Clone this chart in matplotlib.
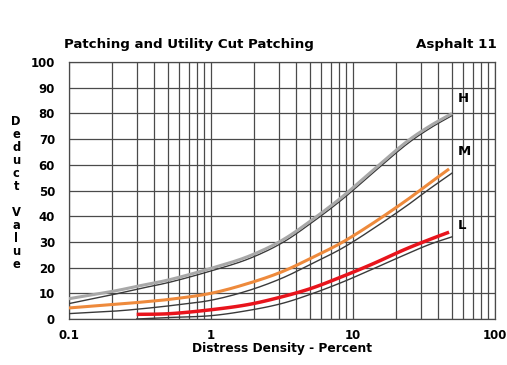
import numpy as np
import matplotlib.pyplot as plt
from matplotlib.ticker import LogLocator, FixedLocator, NullFormatter

# Deduct value curves for each severity level (density in percent)
density_h = [0.1, 0.2, 0.3, 0.52, 1.0, 1.82, 3.14, 5.13, 8.39, 13.6, 23.3, 34.6, 50.0]
deduct_h = [7.9, 10.7, 12.7, 15.4, 19.7, 24.3, 30.5, 38.5, 47.5, 57.5, 68.5, 75.0, 80.0]
deduct_h_under = [6.0, 9.4, 11.6, 14.4, 18.7, 23.3, 29.5, 37.5, 46.5, 56.5, 67.5, 74.1, 79.2]

density_m = [0.1, 0.2, 0.3, 0.52, 1.0, 1.82, 3.14, 5.13, 8.39, 13.6, 23.3, 34.6, 47.6]
deduct_m = [4.3, 5.6, 6.4, 7.7, 10.0, 13.8, 18.3, 23.8, 29.8, 37.0, 45.8, 52.8, 58.4]
density_m_under = [0.1, 0.2, 0.3, 0.52, 1.0, 1.82, 3.14, 5.13, 8.39, 13.6, 23.3, 34.6, 50.0]
deduct_m_under = [2.1, 3.0, 3.8, 5.2, 7.3, 11.0, 15.8, 21.5, 27.5, 34.8, 43.6, 50.6, 56.8]

density_l = [0.3, 0.52, 1.0, 1.82, 3.14, 5.13, 8.39, 13.6, 23.3, 34.6, 47.6]
deduct_l = [1.8, 2.1, 3.6, 5.6, 8.6, 12.0, 16.5, 21.3, 27.1, 30.9, 33.8]
density_l_under = [0.3, 0.52, 1.0, 1.82, 3.14, 5.13, 8.39, 13.6, 23.3, 34.6, 50.0]
deduct_l_under = [0.0, 0.6, 1.3, 3.3, 6.0, 9.8, 14.3, 19.3, 25.0, 29.0, 32.0]

x_ticks = [0.1, 1, 10, 100]
x_tick_labels = ["0.1", "1", "10", "100"]
y_ticks = list(range(0, 101, 10))

plt.rcParams['font.family'] = ['DejaVu Sans']
plt.rcParams['font.weight'] = 'bold'

fig = plt.figure(figsize=(5.07, 3.65), dpi=100)
ax = fig.add_axes([0.136, 0.126, 0.840, 0.704])


def through(xs, ys, steps=12):
    # Catmull-Rom through the points, worked in log10(x)
    px = np.log10(np.asarray(xs, float))
    py = np.asarray(ys, float)
    px = np.concatenate([[2 * px[0] - px[1]], px, [2 * px[-1] - px[-2]]])
    py = np.concatenate([[2 * py[0] - py[1]], py, [2 * py[-1] - py[-2]]])
    out_x, out_y = [], []
    t = np.linspace(0, 1, steps, endpoint=False)
    for i in range(1, len(px) - 2):
        for arr, out in ((px, out_x), (py, out_y)):
            p0, p1, p2, p3 = arr[i - 1:i + 3]
            out.extend(0.5 * (2 * p1 + (-p0 + p2) * t
                              + (2 * p0 - 5 * p1 + 4 * p2 - p3) * t ** 2
                              + (-p0 + 3 * p1 - 3 * p2 + p3) * t ** 3))
    out_x.append(px[-2])
    out_y.append(py[-2])
    return 10 ** np.array(out_x), np.array(out_y)


dark = "#3a3a3a"
for xs, ys, xu, yu, col, lw in [
    (density_h, deduct_h, density_h, deduct_h_under, "#a8a8a8", 2.2),
    (density_m, deduct_m, density_m_under, deduct_m_under, "#ee8a3c", 2.2),
    (density_l, deduct_l, density_l_under, deduct_l_under, "#e8141c", 2.5),
]:
    ax.plot(*through(xu, yu), color=dark, lw=1.0, zorder=3)
    ax.plot(*through(xs, ys), color=col, lw=lw, zorder=4, solid_capstyle='butt')

ax.text(55, 86, "H", fontsize=9.5, fontweight='bold', ha='left', va='center')
ax.text(55, 65, "M", fontsize=9.5, fontweight='bold', ha='left', va='center')
ax.text(55, 36.5, "L", fontsize=9.5, fontweight='bold', ha='left', va='center')

ax.set_xscale('log')
ax.set_xlim(0.1, 100)
ax.set_ylim(0, 100)
ax.xaxis.set_major_locator(FixedLocator(x_ticks))
ax.set_xticklabels(x_tick_labels)
ax.xaxis.set_minor_locator(LogLocator(base=10, subs=np.arange(2, 10)))
ax.xaxis.set_minor_formatter(NullFormatter())
ax.set_yticks(y_ticks)

grid_col = "#4a4a4a"
ax.grid(True, which='both', axis='x', color=grid_col, lw=0.9)
ax.grid(True, which='major', axis='y', color=grid_col, lw=0.9)
ax.tick_params(axis='both', which='both', length=0, labelsize=8.5)
ax.tick_params(axis='x', pad=7)
ax.tick_params(axis='y', pad=10)
for lab in ax.get_xticklabels() + ax.get_yticklabels():
    lab.set_fontweight('bold')
for s in ax.spines.values():
    s.set_color(grid_col)
    s.set_linewidth(0.9)

ax.set_xlabel("Distress Density - Percent", fontsize=8.8, fontweight='bold', labelpad=0)
fig.text(0.032, 0.47, "\n".join("Deduct") + "\n\n" + "\n".join("Value"),
         fontsize=8.3, fontweight='bold', ha='center', va='center', linespacing=1.0)

fig.text(0.126, 0.877, "Patching and Utility Cut Patching", fontsize=9.6, fontweight='bold',
         ha='left', va='center')
fig.text(0.980, 0.877, "Asphalt 11", fontsize=9.6, fontweight='bold', ha='right', va='center')

fig.savefig("out.png", dpi=100)
